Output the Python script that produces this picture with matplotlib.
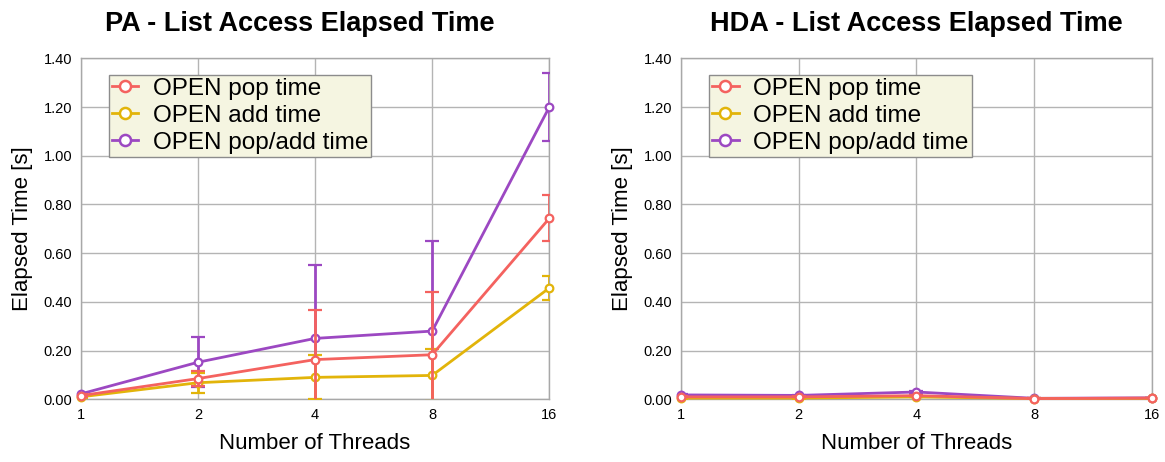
import matplotlib
matplotlib.use("Agg")
import matplotlib.pyplot as plt
from matplotlib.lines import Line2D
from matplotlib.ticker import FixedLocator, FixedFormatter, NullLocator

plt.rcParams['font.family'] = ['Liberation Sans', 'DejaVu Sans']

threads = [1, 2, 4, 8, 16]
series_names = ["OPEN pop time", "OPEN add time", "OPEN pop/add time"]
series_colors = ["#f4625f", "#e2b40a", "#9c48c2"]

# PA results: mean and error (+/-)
pa_pop = [0.015, 0.085, 0.163, 0.183, 0.743]
pa_pop_err = [0.005, 0.030, 0.202, 0.257, 0.095]
pa_add = [0.010, 0.068, 0.090, 0.098, 0.457]
pa_add_err = [0.004, 0.042, 0.090, 0.107, 0.048]
pa_popadd = [0.022, 0.152, 0.250, 0.280, 1.200]
pa_popadd_err = [0.005, 0.103, 0.300, 0.368, 0.138]

# HDA results: mean and error (+/-)
hda_pop = [0.010, 0.010, 0.015, 0.003, 0.005]
hda_pop_err = [0.002, 0.002, 0.003, 0.001, 0.001]
hda_add = [0.005, 0.005, 0.010, 0.003, 0.004]
hda_add_err = [0.002, 0.002, 0.002, 0.001, 0.001]
hda_popadd = [0.018, 0.016, 0.030, 0.004, 0.006]
hda_popadd_err = [0.002, 0.002, 0.005, 0.001, 0.001]

y_ticks = [0.0, 0.2, 0.4, 0.6, 0.8, 1.0, 1.2, 1.4]
y_tick_labels = ["0.00", "0.20", "0.40", "0.60", "0.80", "1.00", "1.20", "1.40"]
x_tick_labels = ["1", "2", "4", "8", "16"]

fig = plt.figure(figsize=(11.65, 4.62), dpi=100)
W, H = 1165, 462
ax_left = fig.add_axes([80.7 / W, 1 - 399.3 / H, (549.3 - 80.7) / W, (399.3 - 58.3) / H])
ax_right = fig.add_axes([680.7 / W, 1 - 399.3 / H, (1152 - 680.7) / W, (399.3 - 58.3) / H])

panels = [
    (ax_left, "PA - List Access Elapsed Time", 0.468,
     [(pa_pop, pa_pop_err), (pa_add, pa_add_err), (pa_popadd, pa_popadd_err)]),
    (ax_right, "HDA - List Access Elapsed Time", 0.5,
     [(hda_pop, hda_pop_err), (hda_add, hda_add_err), (hda_popadd, hda_popadd_err)]),
]

draw_order = [2, 1, 0]
for ax, title, title_x, data in panels:
    for z, i in enumerate(draw_order):
        vals, errs = data[i]
        c = series_colors[i]
        cont = ax.errorbar(threads, vals, yerr=errs, color=c, ecolor=c,
                           lw=2.0, elinewidth=2.0, capsize=5, capthick=2.0,
                           marker='o', ms=5.5, mfc='white', mec=c, mew=1.6,
                           zorder=3 + z)
        cont.lines[0].set_clip_on(False)
    ax.set_xscale('log', base=2)
    ax.set_xlim(1, 16)
    ax.set_ylim(0, 1.4)
    ax.xaxis.set_major_locator(FixedLocator(threads))
    ax.xaxis.set_major_formatter(FixedFormatter(x_tick_labels))
    ax.xaxis.set_minor_locator(NullLocator())
    ax.yaxis.set_major_locator(FixedLocator(y_ticks))
    ax.yaxis.set_major_formatter(FixedFormatter(y_tick_labels))
    ax.tick_params(axis='both', length=0, labelsize=10.5, pad=6)
    ax.grid(True, color='#b4b4b4', lw=1.0)
    ax.set_axisbelow(True)
    for s in ax.spines.values():
        s.set_color('#a8a8a8')
        s.set_linewidth(1.0)
    ax.set_title(title, fontsize=19.5, fontweight='bold', pad=20, x=title_x)
    ax.set_xlabel("Number of Threads", fontsize=16, labelpad=8)
    ax.set_ylabel("Elapsed Time [s]", fontsize=16, labelpad=8)

    handles = [Line2D([], [], color=c, lw=2.0, marker='o', ms=8, mfc='white',
                      mec=c, mew=1.8) for c in series_colors]
    leg = ax.legend(handles, series_names,
                    loc='upper left', bbox_to_anchor=(0.06, 0.951),
                    borderaxespad=0, fontsize=17.5, frameon=True, fancybox=False,
                    facecolor='#f5f5e1', edgecolor='#8c8c8c', framealpha=1,
                    handlelength=1.1, handletextpad=0.6, labelspacing=0.2,
                    borderpad=0.12)
    leg.get_frame().set_linewidth(1.0)
    leg.set_zorder(20)

fig.savefig("out.png", dpi=100)
